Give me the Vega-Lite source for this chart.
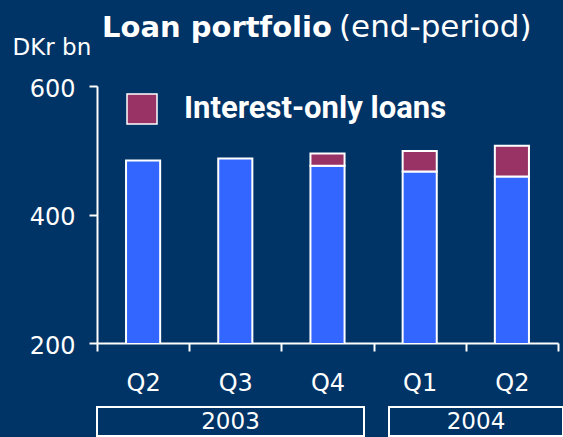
{
  "$schema": "https://vega.github.io/schema/vega-lite/v6.json",
  "background": "#003366",
  "padding": {"left": 12, "top": 12, "right": 0, "bottom": 0},
  "bounds": "flush",
  "spacing": 64,
  "config": {
    "font": "DejaVu Sans",
    "view": {"stroke": null},
    "title": {"color": "white"},
    "axis": {
      "domainColor": "white",
      "domainWidth": 2,
      "tickColor": "white",
      "tickWidth": 2,
      "tickSize": 8,
      "labelColor": "white",
      "labelFont": "DejaVu Sans",
      "labelFontSize": 24,
      "grid": false
    }
  },
  "title": {
    "text": "Loan portfolio",
    "font": "DejaVu Sans",
    "fontSize": 29,
    "fontWeight": "bold",
    "anchor": "start",
    "frame": "group",
    "dx": 5,
    "offset": -31
  },
  "vconcat": [
    {
      "width": 461,
      "height": 257,
      "title": {
        "text": "(end-period)",
        "font": "DejaVu Sans",
        "fontSize": 31,
        "fontWeight": "normal",
        "anchor": "start",
        "frame": "group",
        "dx": 242,
        "offset": -8
      },
      "data": {
        "values": [
          {"period": "Q2 2003", "series": "Other loans", "value": 484},
          {"period": "Q3 2003", "series": "Other loans", "value": 487},
          {"period": "Q4 2003", "series": "Other loans", "value": 476},
          {"period": "Q4 2003", "series": "Interest-only loans", "value": 19},
          {"period": "Q1 2004", "series": "Other loans", "value": 467},
          {"period": "Q1 2004", "series": "Interest-only loans", "value": 32},
          {"period": "Q2 2004", "series": "Other loans", "value": 459},
          {"period": "Q2 2004", "series": "Interest-only loans", "value": 48}
        ]
      },
      "mark": {"type": "bar", "stroke": "white", "strokeWidth": 2, "clip": true, "width": {"band": 0.37}},
      "encoding": {
        "x": {
          "field": "period",
          "type": "nominal",
          "sort": ["Q2 2003", "Q3 2003", "Q4 2003", "Q1 2004", "Q2 2004"],
          "scale": {"paddingInner": 0, "paddingOuter": 0},
          "axis": {
            "title": null,
            "labelAngle": 0,
            "tickBand": "extent",
            "labelPadding": 20,
            "labelExpr": "split(datum.label, ' ')[0]"
          }
        },
        "y": {
          "field": "value",
          "type": "quantitative",
          "stack": "zero",
          "scale": {"domain": [200, 600], "zero": false, "nice": false},
          "axis": {
            "values": [200, 400, 600],
            "labelPadding": 14,
            "labelOffset": 3,
            "title": "DKr bn",
            "titleAngle": 0,
            "titleAlign": "left",
            "titleBaseline": "alphabetic",
            "titleX": -85,
            "titleY": -32,
            "titleFont": "DejaVu Sans",
            "titleFontSize": 23,
            "titleFontWeight": "normal",
            "titleColor": "white"
          }
        },
        "color": {
          "field": "series",
          "type": "nominal",
          "scale": {"domain": ["Interest-only loans", "Other loans"], "range": ["#993366", "#3366FF"]},
          "legend": {
            "values": ["Interest-only loans"],
            "title": null,
            "orient": "none",
            "legendX": 29,
            "legendY": 7,
            "padding": 0,
            "symbolType": "square",
            "symbolSize": 900,
            "symbolStrokeColor": "white",
            "symbolStrokeWidth": 1.5,
            "symbolOpacity": 1,
            "labelFont": "Roboto",
            "labelFontSize": 31,
            "labelFontWeight": "bold",
            "labelColor": "white",
            "labelOffset": 26,
            "labelLimit": 400
          }
        },
        "order": {"field": "series", "sort": "descending"}
      }
    },
    {
      "spacing": 23,
      "hconcat": [
        {
          "width": 267,
          "height": 29,
          "view": {"stroke": "white", "strokeWidth": 2},
          "data": {"values": [{"year": "2003"}]},
          "mark": {"type": "text", "color": "white", "fontSize": 23, "font": "DejaVu Sans"},
          "encoding": {"text": {"field": "year"}}
        },
        {
          "width": 174,
          "height": 29,
          "view": {"stroke": "white", "strokeWidth": 2},
          "data": {"values": [{"year": "2004"}]},
          "mark": {"type": "text", "color": "white", "fontSize": 23, "font": "DejaVu Sans"},
          "encoding": {"text": {"field": "year"}}
        }
      ]
    }
  ]
}
